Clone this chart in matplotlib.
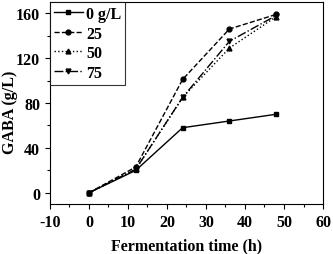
import matplotlib
matplotlib.use("Agg")
import matplotlib.pyplot as plt

plt.rcParams['font.family'] = ['Liberation Serif', 'DejaVu Serif']
plt.rcParams['font.weight'] = 'bold'
plt.rcParams['axes.unicode_minus'] = False

time_h = [0, 12, 24, 36, 48]
gaba_0 = [0, 20, 58, 64, 70]
gaba_25 = [0, 23, 101, 146, 159]
gaba_50 = [0, 21, 85, 129, 157]
gaba_75 = [0, 21, 85, 135, 158]
labels = ['0 g/L', '25', '50', '75']

fig = plt.figure(figsize=(3.33, 2.55), dpi=100)
ax = fig.add_axes([0.150, 0.196, 0.820, 0.792])

ax.plot(time_h, gaba_0, 'k-', marker='s', ms=3.5, lw=1.0, label=labels[0])
ax.plot(time_h, gaba_25, 'k--', marker='o', ms=3.5, lw=1.0, label=labels[1])
ax.plot(time_h, gaba_50, 'k:', marker='^', ms=3.5, lw=1.0, label=labels[2])
ax.plot(time_h, gaba_75, 'k-.', marker='v', ms=3.5, lw=1.0, label=labels[3])

ax.set_xlim(-10, 60)
ax.set_ylim(-10, 170)
ax.set_xticks(range(-10, 61, 10))
ax.set_yticks([0, 40, 80, 120, 160])
ax.set_xticks(range(-5, 60, 10), minor=True)
ax.set_yticks([20, 60, 100, 140], minor=True)
ax.tick_params(direction='out', length=3.5, width=0.8, labelsize=11.5)
ax.tick_params(which='minor', direction='out', length=2, width=0.8)
for lab in ax.get_xticklabels() + ax.get_yticklabels():
    lab.set_fontweight('bold')
for s in ax.spines.values():
    s.set_linewidth(0.8)

ax.set_xlabel('Fermentation time (h)', fontsize=11.5, fontweight='bold', va='center')
ax.xaxis.set_label_coords(187 / 333, 1 - 246 / 255, transform=fig.transFigure)
ax.set_ylabel('GABA (g/L)', fontsize=11.5, fontweight='bold', va='center')
ax.yaxis.set_label_coords(10.5 / 333, 1 - 112 / 255, transform=fig.transFigure)

leg = ax.legend(loc='upper left', frameon=True, fancybox=False,
                edgecolor='black', borderaxespad=0, handlelength=1.8,
                handletextpad=0.2, labelspacing=0.22, borderpad=0.25,
                prop={'weight': 'bold', 'size': 11.5})
leg.get_frame().set_linewidth(0.8)

fig.savefig('out.png', dpi=100)
